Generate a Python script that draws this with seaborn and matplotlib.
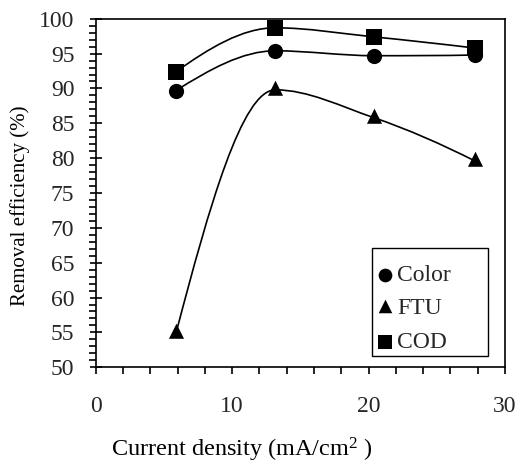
import numpy as np
import pandas as pd
import matplotlib
matplotlib.use("Agg")
import matplotlib.pyplot as plt
from matplotlib.path import Path
from matplotlib.patches import PathPatch, Rectangle
from matplotlib.ticker import MultipleLocator
import seaborn as sns

current_density = [5.88, 13.16, 20.4, 27.8]
color_removal = [89.7, 95.4, 94.7, 94.8]
ftu_removal = [54.9, 89.8, 85.8, 79.6]
cod_removal = [92.4, 98.7, 97.4, 95.8]
series_names = ["Color", "FTU", "COD"]

sns.set_theme(style="white")
plt.rcParams["font.family"] = ["Liberation Serif", "DejaVu Serif"]
plt.rcParams["mathtext.fontset"] = "custom"
plt.rcParams["mathtext.rm"] = "Liberation Serif"
plt.rcParams["mathtext.it"] = "Liberation Serif"

# triangle marker whose anchor sits low inside the triangle (as in the source)
tri_marker = Path([(0, 1.3), (-1.0, -0.7), (1.0, -0.7), (0, 1.3)],
                  [Path.MOVETO, Path.LINETO, Path.LINETO, Path.CLOSEPOLY])
series_markers = ["o", tri_marker, "s"]
series_sizes = [120, 200, 120]

fig = plt.figure(figsize=(5.21, 4.69), dpi=100)
ax = fig.add_axes([0.184, 0.217, 0.785, 0.743])


def pchip_slopes(x, y):
    x = np.asarray(x, float)
    y = np.asarray(y, float)
    h = np.diff(x)
    d = np.diff(y) / h
    n = len(x)
    m = np.zeros(n)
    for k in range(1, n - 1):
        if d[k - 1] * d[k] > 0:
            w1 = 2 * h[k] + h[k - 1]
            w2 = h[k] + 2 * h[k - 1]
            m[k] = (w1 + w2) / (w1 / d[k - 1] + w2 / d[k])
        else:
            m[k] = 0.0

    def end(h0, h1, d0, d1):
        s = ((2 * h0 + h1) * d0 - h0 * d1) / (h0 + h1)
        if np.sign(s) != np.sign(d0):
            s = 0.0
        elif np.sign(d0) != np.sign(d1) and abs(s) > abs(3 * d0):
            s = 3 * d0
        return s

    m[0] = end(h[0], h[1], d[0], d[1])
    m[-1] = end(h[-1], h[-2], d[-1], d[-2])
    return m


def smooth_path(xs, ys):
    m = pchip_slopes(xs, ys)
    verts = [(xs[0], ys[0])]
    codes = [Path.MOVETO]
    for i in range(len(xs) - 1):
        h = xs[i + 1] - xs[i]
        c1 = (xs[i] + h / 3, ys[i] + m[i] * h / 3)
        c2 = (xs[i + 1] - h / 3, ys[i + 1] - m[i + 1] * h / 3)
        verts += [c1, c2, (xs[i + 1], ys[i + 1])]
        codes += [Path.CURVE4] * 3
    return Path(verts, codes)


all_values = [color_removal, ftu_removal, cod_removal]
for name, mk, sz, vals in zip(series_names, series_markers, series_sizes, all_values):
    patch = PathPatch(smooth_path(current_density, vals), facecolor="none",
                      edgecolor="black", lw=1.2, transform=ax.transData, zorder=2)
    ax.add_patch(patch)
    df = pd.DataFrame({"x": current_density, "y": vals})
    sns.scatterplot(data=df, x="x", y="y", marker=mk, color="black", s=sz,
                    edgecolor="black", linewidth=0, ax=ax, label=name, zorder=3)

ax.set_xlim(0, 30)
ax.set_ylim(50, 100)
ax.xaxis.set_major_locator(MultipleLocator(10))
ax.xaxis.set_minor_locator(MultipleLocator(2))
ax.yaxis.set_major_locator(MultipleLocator(5))
ax.yaxis.set_minor_locator(MultipleLocator(1))
ax.tick_params(axis="x", which="both", direction="out", length=5, width=1.2,
               color="black", bottom=True, labelsize=17, pad=16)
ax.tick_params(axis="y", which="major", direction="inout", length=9, width=1.2,
               color="black", left=True, labelsize=17, pad=11)
ax.tick_params(axis="y", which="minor", direction="out", length=5, width=1.2,
               color="black", left=True)
for s in ax.spines.values():
    s.set_color("black")
    s.set_linewidth(1.2)

ax.set_xlabel("Current density (mA/cm$^{2}$ )", fontsize=17.5, color="black")
ax.xaxis.set_label_coords(242 / 521, 19 / 469, transform=fig.transFigure)
ax.xaxis.label.set_verticalalignment("center")
ax.set_ylabel("Removal efficiency (%)", fontsize=15, color="black")
ax.yaxis.set_label_coords(20 / 521, 1 - 206 / 469, transform=fig.transFigure)
ax.yaxis.label.set_verticalalignment("center")

# legend frame (as in the source: box larger than its entries)
ax.add_patch(Rectangle((0.676, 0.032), 0.282, 0.310, transform=ax.transAxes,
                       facecolor="white", edgecolor="black", lw=1.0, zorder=4))
leg = ax.legend(loc="center", bbox_to_anchor=(0.779, 0.168), frameon=False,
                fontsize=17, markerscale=0.9, handlelength=0.6, handletextpad=0.2,
                labelspacing=0.5, borderpad=0.0, borderaxespad=0)
leg.set_zorder(5)

fig.savefig("out.png", dpi=100)
